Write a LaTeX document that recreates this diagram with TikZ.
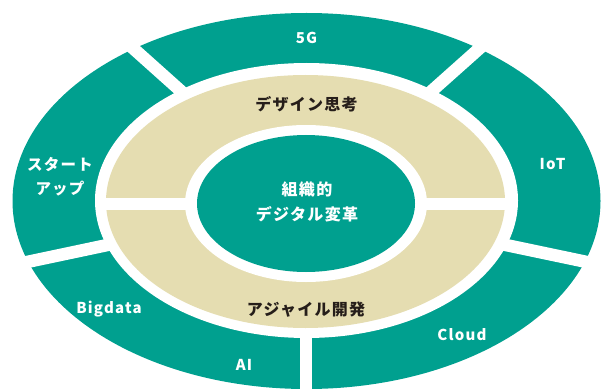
\documentclass[tikz,border=0pt]{standalone}
\usepackage{fontspec}
\newfontfamily\jpls{Noto Sans CJK JP}[LetterSpace=8]
\definecolor{teal1}{RGB}{0,160,143}
\definecolor{beige1}{RGB}{229,221,177}
\definecolor{ink1}{RGB}{38,30,26}
\begin{document}
\begin{tikzpicture}[x=1pt,y=-1pt,
  lat/.style={font=\jpls\bfseries\fontsize{15}{17}\selectfont, text=white, inner sep=0pt},
  jw/.style={font=\jpls\bfseries\fontsize{15.5}{24}\selectfont, text=white, inner sep=0pt, align=center},
  jd/.style={font=\jpls\bfseries\fontsize{16}{25}\selectfont, text=ink1, inner sep=0pt, align=center},
  gapline/.style={draw=white, line width=12.5pt}]
\useasboundingbox (0,0) rectangle (601,390);
\clip (0,0) rectangle (601,390);
\coordinate (c) at (306,203);
% outer ring
\fill[teal1] (306.5,201) ellipse [x radius=294pt, y radius=188pt];
\draw[gapline] (c) -- (49.5,-26.5);
\draw[gapline] (c) -- (563.5,-26.5);
\draw[gapline] (c) -- (-56.7,279.7);
\draw[gapline] (c) -- (671,279.7);
\draw[gapline] (c) -- (306,420);
% white gap
\fill[white] (306.5,200.5) ellipse [x radius=211.5pt, y radius=137.5pt];
% middle ring
\fill[beige1] (305.5,201.5) ellipse [x radius=199.5pt, y radius=126.5pt];
\fill[white] (100,198) rectangle (512,210);
\fill[white] (306,203.5) ellipse [x radius=121pt, y radius=78.5pt];
% inner
\fill[teal1] (306,203.5) ellipse [x radius=109pt, y radius=68.5pt];
% labels
\node[lat] (t5g) at (306.5,38) {5G};
\node[lat] (tiot) at (552.5,164.5) {IoT};
\node[lat] (tbig) at (109,309) {Bigdata};
\node[lat] (tai) at (244,365) {AI};
\node[lat] (tcloud) at (462,335) {Cloud};
\node[jw] (tstart) at (60,177) {スタート\\アップ};
\node[jd] (tdesign) at (306.5,104.5) {デザイン思考};
\node[jd] (tagile) at (306,310) {アジャイル開発};
\node[jw,font=\jpls\bfseries\fontsize{16}{25}\selectfont] (tcore) at (307,202) {組織的\\デジタル変革};
\end{tikzpicture}
\end{document}
